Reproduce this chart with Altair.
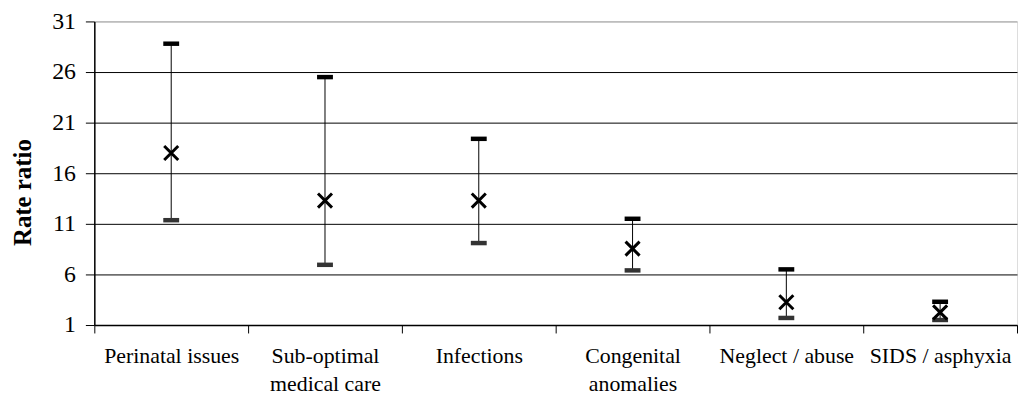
import altair as alt
import pandas as pd

categories = ["Perinatal issues", "Sub-optimal|medical care", "Infections",
              "Congenital|anomalies", "Neglect / abuse", "SIDS / asphyxia"]
rate_ratio = [18.0, 13.3, 13.3, 8.55, 3.25, 2.25]
lower_ci = [11.36, 6.95, 9.1, 6.4, 1.7, 1.5]
upper_ci = [28.8, 25.5, 19.4, 11.5, 6.5, 3.3]
y_ticks = [1, 6, 11, 16, 21, 26, 31]

df = pd.DataFrame({"cat": categories, "rr": rate_ratio,
                   "lo": lower_ci, "hi": upper_ci})

FONT = "Liberation Serif"

x = alt.X("cat:N", sort=categories, title=None,
          scale=alt.Scale(paddingInner=0, paddingOuter=0),
          axis=alt.Axis(labelExpr="split(datum.label, '|')", labelAngle=0,
                        labelFont=FONT, labelFontSize=22, labelColor="black",
                        labelLineHeight=28, labelPadding=13,
                        tickBand="extent", tickSize=8, tickColor="black",
                        domainColor="black", domainWidth=1.5, grid=False,
                        labelBaseline="top"))

y_scale = alt.Scale(domain=[1, 31], nice=False, zero=False)
y_axis = alt.Axis(values=y_ticks, title="Rate ratio", titleFont=FONT,
                  titleFontSize=25, titleFontWeight="bold", titleColor="black",
                  titlePadding=16, titleY=172,
                  labelFont=FONT, labelFontSize=24, labelColor="black",
                  labelPadding=10, tickSize=9, tickColor="black",
                  domainColor="black", domainWidth=1.5,
                  grid=True,
                  gridColor={"condition": {"test": "datum.value == 31", "value": "#999999"},
                             "value": "black"},
                  gridWidth=1)

base = alt.Chart(df)

rules = base.mark_rule(color="black", strokeWidth=1, opacity=1).encode(
    x=x, y=alt.Y("lo:Q", scale=y_scale, axis=y_axis), y2="hi:Q")

upper = base.mark_tick(color="black", size=16, thickness=4.5, orient="horizontal",
                       opacity=1).encode(
    x=x, y=alt.Y("hi:Q", scale=y_scale, axis=y_axis))

lower = base.mark_tick(color="#333333", size=16, thickness=4.5, orient="horizontal",
                       opacity=1).encode(
    x=x, y=alt.Y("lo:Q", scale=y_scale, axis=y_axis))

points = base.mark_point(shape="M-1,-1L1,1M-1,1L1,-1", filled=False, size=200,
                         strokeWidth=3, color="black", opacity=1).encode(
    x=x, y=alt.Y("rr:Q", scale=y_scale, axis=y_axis))

chart = alt.layer(rules, upper, lower, points).properties(
    width=930, height=306,
    autosize=alt.AutoSizeParams(type="none"),
    padding={"left": 87, "top": 12, "right": 2, "bottom": 72},
).configure_view(stroke="#999999", strokeWidth=1.5).configure(background="white")

chart.save("out.html", embed_options={"renderer": "svg", "actions": False})
